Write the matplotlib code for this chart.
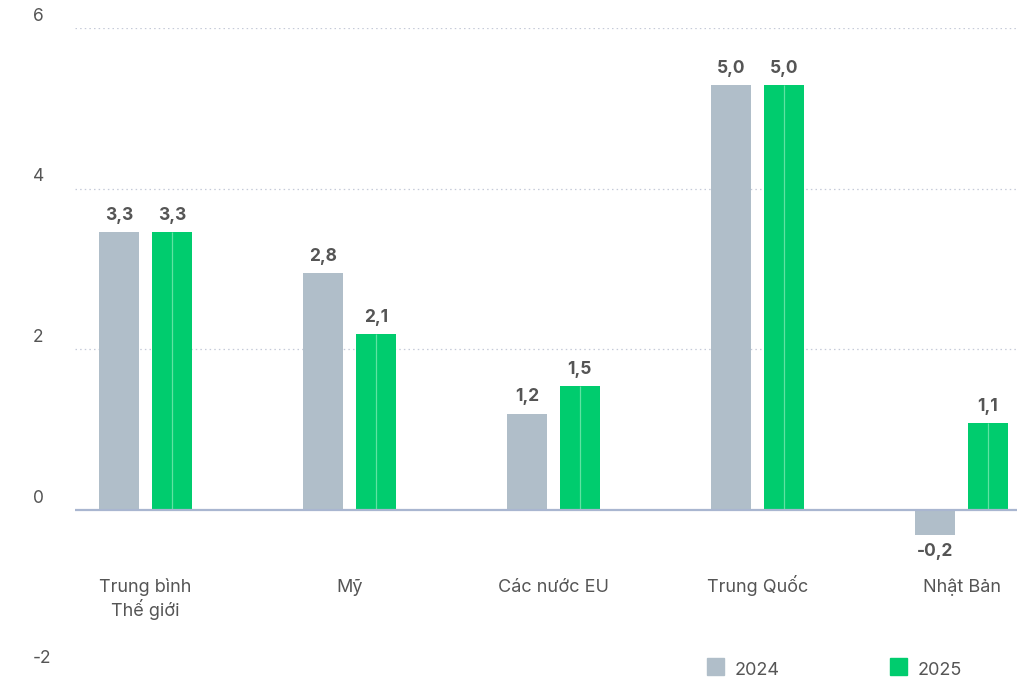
import numpy as np
import matplotlib
matplotlib.use('Agg')
import matplotlib.pyplot as plt
from matplotlib.patches import Rectangle
from matplotlib import transforms

plt.rcParams['font.family'] = ['Inter', 'DejaVu Sans']

categories = ['Trung bình\nThế giới', 'Mỹ', 'Các nước EU', 'Trung Quốc', 'Nhật Bản']
# bar heights as drawn in the picture
heights_2024 = [3.46, 2.95, 1.20, 5.29, -0.31]
heights_2025 = [3.46, 2.19, 1.54, 5.29, 1.08]
# value labels as printed
labels_2024 = ['3,3', '2,8', '1,2', '5,0', '-0,2']
labels_2025 = ['3,3', '2,1', '1,5', '5,0', '1,1']
yticks = [-2, 0, 2, 4, 6]
series_names = ['2024', '2025']

GRAY = '#b0bec9'
GREEN = '#00cc6e'
TEXT = '#555555'

W, H = 1017, 679
fig = plt.figure(figsize=(W / 100, H / 100), dpi=100)
ax = fig.add_axes([75 / W, 1 - 670.7 / H, 1 - 75 / W, (670.7 - 28) / H])

x = np.arange(len(categories))
bw = 0.196
off = 0.129
ax.bar(x - off, heights_2024, width=bw, color=GRAY, zorder=2)
ax.bar(x + off, heights_2025, width=bw, color=GREEN, zorder=2)
# thin lighter stripe in the middle of the green bars
ax.vlines(x + off, 0, heights_2025, color='#5fe3a2', lw=0.9, zorder=3)

ax.set_xlim(-0.3456, 4.272)
ax.set_ylim(-2, 6)

for s in ax.spines.values():
    s.set_visible(False)
ax.set_xticks([])
ax.set_yticks([])

# grid lines
for v in [2, 4, 6]:
    ax.axhline(v, color='#c5cad8', lw=0.9, ls=(0, (1.2, 2.5)), zorder=1)
ax.axhline(0, color='#a9b6d0', lw=1.6, zorder=4)

# y tick labels, above their lines
tr = transforms.blended_transform_factory(fig.transFigure, ax.transData)
tr_up = tr + transforms.ScaledTranslation(0, 2.5 / 72, fig.dpi_scale_trans)
for v in yticks:
    ax.text(33 / W, v, str(v), transform=tr_up, ha='left', va='bottom',
            fontsize=12.5, color=TEXT)

# value labels
def put_labels(xs, hs, labs):
    for xi, h, lab in zip(xs, hs, labs):
        if h >= 0:
            ax.annotate(lab, (xi, h), xytext=(0, 6), textcoords='offset points',
                        ha='center', va='bottom', fontsize=12.5, fontweight='bold', color=TEXT)
        else:
            ax.annotate(lab, (xi, h), xytext=(0, -6), textcoords='offset points',
                        ha='center', va='top', fontsize=12.5, fontweight='bold', color=TEXT)

put_labels(x - off, heights_2024, labels_2024)
put_labels(x + off, heights_2025, labels_2025)

# category labels, first line baseline about 82 px below zero
for xi, c in zip(x, categories):
    t = ax.annotate(c.split('\n')[0], (xi, 0), xytext=(0, -59), textcoords='offset points',
                    ha='center', va='baseline', fontsize=13, color=TEXT)
    if '\n' in c:
        ax.annotate(c.split('\n')[1], (xi, 0), xytext=(0, -76), textcoords='offset points',
                    ha='center', va='baseline', fontsize=13, color=TEXT)

# legend
for name, col, px in zip(series_names, [GRAY, GREEN], [707, 890]):
    fig.patches.append(Rectangle((px / W, 1 - 675 / H), 17 / W, 17 / H,
                                 transform=fig.transFigure, color=col))
    fig.text((px + 28) / W, 1 - 675 / H, name, ha='left', va='baseline',
             fontsize=13, color=TEXT)

fig.savefig('out.png', dpi=100)
